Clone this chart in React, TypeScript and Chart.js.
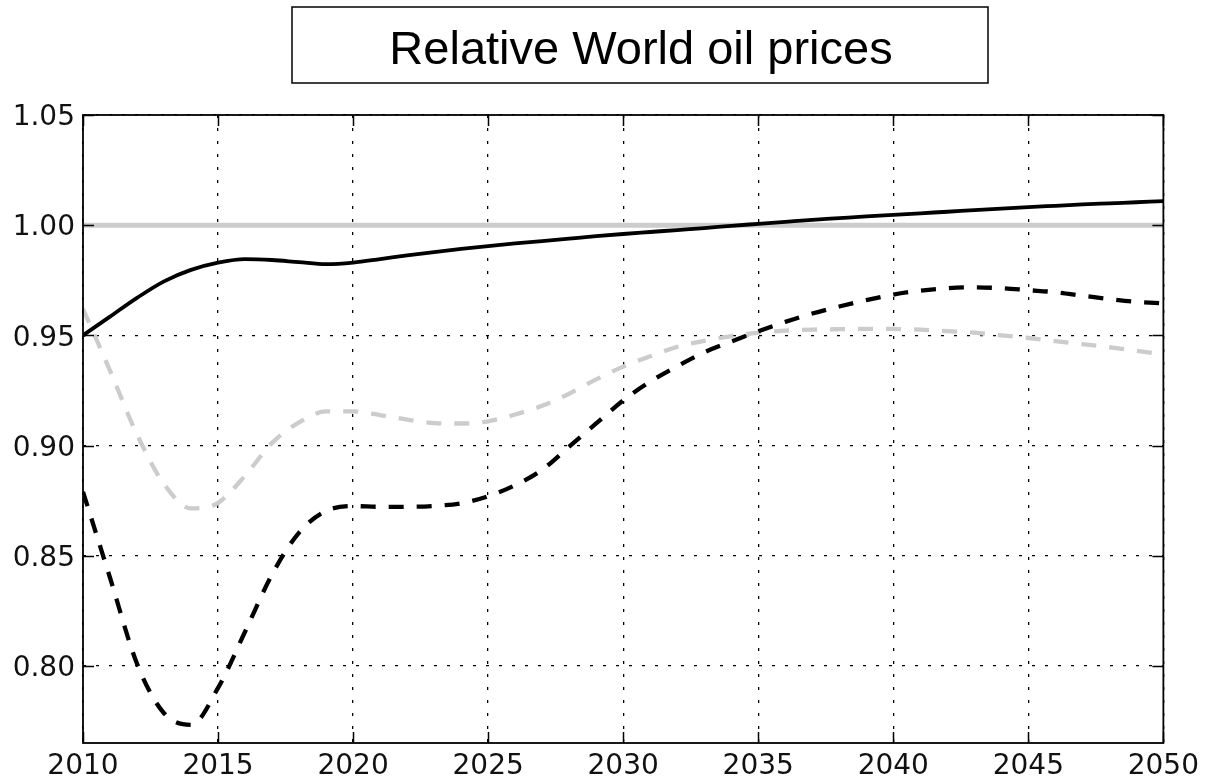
import React, { useEffect, useRef } from "react";
import { Chart, registerables } from "chart.js";

Chart.register(...registerables);

const titleText = "Relative World oil prices";

const years = [
  2010, 2011, 2012, 2013, 2014, 2015, 2016, 2017, 2018, 2019,
  2020, 2021, 2022, 2023, 2024, 2025, 2026, 2027, 2028, 2029,
  2030, 2031, 2032, 2033, 2034, 2035, 2036, 2037, 2038, 2039,
  2040, 2041, 2042, 2043, 2044, 2045, 2046, 2047, 2048, 2049, 2050,
];

const solidBlack = [
  0.950, 0.9585, 0.967, 0.9745, 0.9797, 0.983, 0.9846, 0.9842, 0.9832, 0.9823,
  0.983, 0.9846, 0.9863, 0.9878, 0.9892, 0.9905, 0.9917, 0.9928, 0.9939, 0.995,
  0.996, 0.9969, 0.9978, 0.9987, 0.9997, 1.0006, 1.0015, 1.0024, 1.0032, 1.004,
  1.0047, 1.0054, 1.0061, 1.0068, 1.0075, 1.0082, 1.0088, 1.0094, 1.0099, 1.0104, 1.0109,
];

const dashedBlack = [
  0.879, 0.840, 0.801, 0.7785, 0.7732, 0.790, 0.8155, 0.8415, 0.8605, 0.8703,
  0.8725, 0.8722, 0.8722, 0.8726, 0.8738, 0.877, 0.882, 0.889, 0.8995, 0.910,
  0.9205, 0.929, 0.936, 0.9423, 0.9472, 0.9518, 0.9561, 0.9599, 0.9631, 0.966,
  0.9685, 0.9703, 0.9714, 0.9718, 0.9714, 0.9705, 0.9696, 0.968, 0.9665, 0.9652, 0.9645,
];

const dashedGray = [
  0.962, 0.934, 0.905, 0.8825, 0.8715, 0.874, 0.8863, 0.9012, 0.9105, 0.9155,
  0.9155, 0.9138, 0.9118, 0.9102, 0.910, 0.911, 0.9141, 0.918, 0.9235, 0.930,
  0.9358, 0.9405, 0.9448, 0.9475, 0.9497, 0.9512, 0.9521, 0.9526, 0.9528, 0.9529,
  0.9529, 0.9526, 0.9519, 0.9512, 0.950, 0.9488, 0.9474, 0.946, 0.9446, 0.943, 0.9413,
];

const referenceYears = [2010, 2050];
const referenceLevel = [1.0, 1.0];

const xTickValues = [2010, 2015, 2020, 2025, 2030, 2035, 2040, 2045, 2050];
const yTickValues = [0.8, 0.85, 0.9, 0.95, 1.0, 1.05];

const xMin = 2010;
const xMax = 2050;
const yMin = 0.765;
const yMax = 1.05;

const toPoints = (xs: number[], ys: number[]) => xs.map((x, i) => ({ x, y: ys[i] }));

const framePlugin = {
  id: "frameAndTitle",
  afterDraw(chart: any) {
    const ctx = chart.ctx as CanvasRenderingContext2D;
    const area = chart.chartArea;
    const xs = chart.scales.x;
    const ys = chart.scales.y;
    ctx.save();
    ctx.strokeStyle = "#000";
    ctx.lineWidth = 1.5;
    const tl = 11;
    ctx.beginPath();
    xs.ticks.forEach((t: any) => {
      const px = Math.round(xs.getPixelForValue(t.value)) + 0.5;
      ctx.moveTo(px, area.bottom);
      ctx.lineTo(px, area.bottom - tl);
      ctx.moveTo(px, area.top);
      ctx.lineTo(px, area.top + tl);
    });
    ys.ticks.forEach((t: any) => {
      const py = Math.round(ys.getPixelForValue(t.value)) + 0.5;
      ctx.moveTo(area.left, py);
      ctx.lineTo(area.left + tl, py);
      ctx.moveTo(area.right, py);
      ctx.lineTo(area.right - tl, py);
    });
    ctx.stroke();
    ctx.lineWidth = 1.8;
    ctx.strokeRect(area.left, area.top, area.right - area.left, area.bottom - area.top);
    ctx.lineWidth = 1.5;
    ctx.strokeRect(292, 7, 696, 76);
    ctx.fillStyle = "#000";
    ctx.font = '47px "Liberation Sans", Arial, sans-serif';
    ctx.textAlign = "center";
    ctx.textBaseline = "alphabetic";
    ctx.fillText(titleText, 641, 64);
    ctx.restore();
  },
};

export default function App() {
  const canvasRef = useRef<HTMLCanvasElement | null>(null);

  useEffect(() => {
    document.body.style.margin = "0";
    const canvas = canvasRef.current;
    if (!canvas) return;
    const gridStyle = {
      display: true,
      color: "#000",
      lineWidth: 1.3,
      drawTicks: false,
      tickLength: 0,
    };
    const tickFont = { family: "DejaVu Sans, sans-serif", size: 28 };
    const chart = new Chart(canvas, {
      type: "line",
      data: {
        datasets: [
          {
            label: "solid",
            data: toPoints(years, solidBlack),
            borderColor: "#000",
            borderWidth: 3.8,
            pointRadius: 0,
            cubicInterpolationMode: "monotone",
            fill: false,
          },
          {
            label: "dashed black",
            data: toPoints(years, dashedBlack),
            borderColor: "#000",
            borderWidth: 4.3,
            borderDash: [15, 13],
            pointRadius: 0,
            cubicInterpolationMode: "monotone",
            fill: false,
          },
          {
            label: "dashed gray",
            data: toPoints(years, dashedGray),
            borderColor: "#cccccc",
            borderWidth: 4.3,
            borderDash: [15, 13],
            pointRadius: 0,
            cubicInterpolationMode: "monotone",
            fill: false,
          },
          {
            label: "reference",
            data: toPoints(referenceYears, referenceLevel),
            borderColor: "#cccccc",
            borderWidth: 5,
            pointRadius: 0,
            fill: false,
          },
        ],
      },
      options: {
        animation: false,
        responsive: false,
        maintainAspectRatio: false,
        layout: { padding: { top: 115, right: 42, left: 0, bottom: 0 } },
        plugins: {
          legend: { display: false },
          tooltip: { enabled: false },
          title: { display: false },
        },
        scales: {
          x: {
            type: "linear",
            min: xMin,
            max: xMax,
            z: 1,
            afterBuildTicks: (scale: any) => {
              scale.ticks = xTickValues.map((v) => ({ value: v }));
            },
            afterFit: (scale: any) => {
              scale.height = 38;
            },
            grid: gridStyle as any,
            border: { display: false, dash: [3, 10] },
            ticks: {
              padding: 7,
              color: "#111",
              font: tickFont,
              maxRotation: 0,
              autoSkip: false,
              callback: (v: any) => String(v),
            },
          },
          y: {
            type: "linear",
            min: yMin,
            max: yMax,
            z: 1,
            afterBuildTicks: (scale: any) => {
              scale.ticks = yTickValues.map((v) => ({ value: v }));
            },
            afterFit: (scale: any) => {
              scale.width = 83;
            },
            grid: gridStyle as any,
            border: { display: false, dash: [3, 10] },
            ticks: {
              padding: 8,
              labelOffset: 3,
              color: "#111",
              font: tickFont,
              autoSkip: false,
              callback: (v: any) => Number(v).toFixed(2),
            },
          },
        },
      },
      plugins: [framePlugin],
    } as any);
    return () => chart.destroy();
  }, []);

  return (
    <div style={{ position: "absolute", left: 0, top: 0, width: 1206, height: 781, background: "#fff" }}>
      <canvas ref={canvasRef} width={1206} height={781} style={{ width: 1206, height: 781, display: "block" }} />
    </div>
  );
}
